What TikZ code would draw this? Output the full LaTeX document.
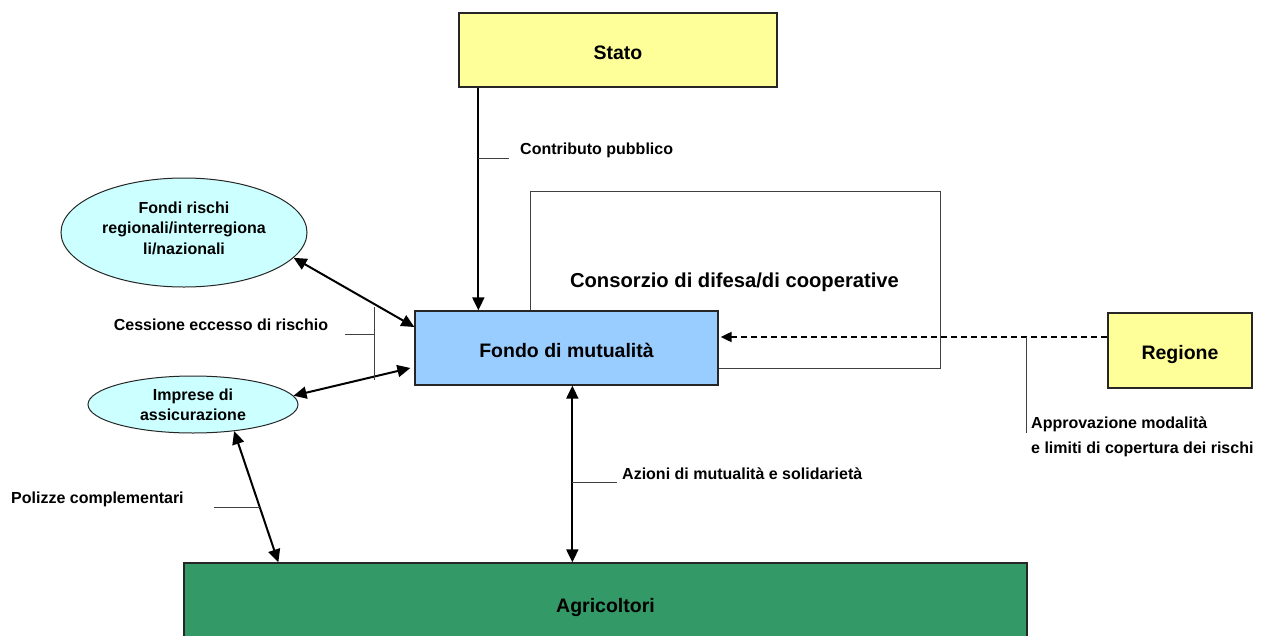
\documentclass[tikz,border=0pt]{standalone}
\usepackage{fontspec}
\setmainfont{Liberation Sans}
\usetikzlibrary{arrows.meta,calc,shapes.geometric}
\definecolor{yel}{HTML}{FFFF99}
\definecolor{lblue}{HTML}{99CCFF}
\definecolor{lcyan}{HTML}{CCFFFF}
\definecolor{agrgreen}{HTML}{339966}
\begin{document}
\begin{tikzpicture}[x=1pt,y=-1pt,
  box/.style={draw=black!85, line width=1.3pt, rectangle, inner sep=0pt, text height=18pt, text depth=0pt, font=\bfseries\fontsize{19.5}{23}\selectfont},
  ell/.style={ellipse, draw=black!85, line width=1pt, fill=lcyan, inner sep=0pt},
  elltext/.style={align=center, inner sep=0pt, font=\bfseries\fontsize{16}{20.5}\selectfont},
  lbl/.style={font=\bfseries\fontsize{16}{25}\selectfont, inner sep=0pt},
  tipa/.tip={Triangle[length=13pt,width=12pt]},
  arr/.style={line width=2pt, tipa-tipa},
  arrone/.style={line width=2pt, -tipa},
  tickline/.style={line width=1pt, draw=black!75}]
\clip (0,0) rectangle (1267,635);
\fill[white] (0,0) rectangle (1267,635);

% boxes
\node[box, fill=yel, minimum width=318pt, minimum height=74pt] (stato) at (618,50) {Stato};
\node[box, draw=black!75, line width=1pt, minimum width=410pt, minimum height=177pt] (cons) at (735,279.5) {};
\node[font=\bfseries\fontsize{20.2}{23}\selectfont, inner sep=0pt] (constext) at (734.5,282) {Consorzio di difesa/di cooperative};
\node[box, fill=lblue, minimum width=303pt, minimum height=74pt] (fondo) at (566.5,348) {Fondo di mutualità};
\node[box, fill=yel, minimum width=144pt, minimum height=75pt] (regione) at (1180,350.5) {Regione};
\node[box, fill=agrgreen, minimum width=843pt, minimum height=80pt] (agri) at (605.5,603) {Agricoltori};

% ellipses
\node[ell, minimum width=246pt, minimum height=109pt] (fondi) at (184,232.5) {};
\node[elltext] (fonditext) at (184,228) {Fondi rischi\\regionali/interregiona\\li/nazionali};
\node[ell, minimum width=210pt, minimum height=57pt] (imprese) at (193,404.5) {};
\node[elltext] (impresetext) at (193,405) {Imprese di\\assicurazione};

% connectors
\draw[arrone] ($(stato.south west)+(20,0)$) -- ($(fondo.north west)+(64,0)$) coordinate[pos=0.32] (cp);
\draw[arr] (fondi.-13) -- ($(fondo.west)+(0,-21)$);
\draw[arr] (imprese.5) -- ($(fondo.west)+(-4,20)$);
\draw[arr] (imprese.-33) -- ($(agri.north west)+(95,0)$) coordinate[pos=0.58] (pc);
\draw[arr] ($(fondo.south west)+(158,0)$) -- ($(agri.north west)+(389,0)$) coordinate[pos=0.55] (am);
\draw[line width=2pt, dash pattern=on 6pt off 4pt, -{Triangle[length=11pt,width=10pt]}] ($(regione.west)+(0,-13.5)$) coordinate (rg) -- ($(rg -| fondo.east)+(2,0)$) coordinate[pos=0.21] (ap);

% labels and ticks
\node[lbl, anchor=west] (contrib) at (520,150) {Contributo pubblico};
\draw[tickline] (cp) -- ++(31,0) coordinate (cpe);

\node[lbl] (cess) at (221,325) {Cessione eccesso di rischio};
\coordinate (brtop) at (374,307);
\coordinate (brbot) at (374,380);
\draw[tickline] (brtop) -- (brbot);
\draw[tickline] (345,334) coordinate (brl) -- (brl -| brtop);

\node[lbl, anchor=west] (poliz) at (11,499) {Polizze complementari};
\draw[tickline] (pc) -- ++(-46,0) coordinate (pce);

\node[lbl, anchor=west] (azioni) at (622,474) {Azioni di mutualità e solidarietà};
\draw[tickline] ($(am)$) -- ++(45,0) coordinate (ame);

\draw[tickline] (ap) -- ++(0,96) coordinate (ape);
\node[lbl, anchor=west, align=left] (approv) at (1031,436.5) {Approvazione modalità\\e limiti di copertura dei rischi};
\end{tikzpicture}
\end{document}
